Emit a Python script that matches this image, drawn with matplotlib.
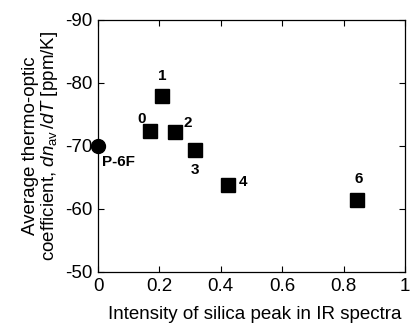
import matplotlib
matplotlib.use("Agg")
import matplotlib.pyplot as plt

plt.rcParams['font.family'] = ['Liberation Sans', 'DejaVu Sans']
plt.rcParams['mathtext.fontset'] = 'custom'
plt.rcParams['mathtext.rm'] = 'Liberation Sans'
plt.rcParams['mathtext.it'] = 'Liberation Sans:italic'

# data
ref_x = [0.0]
ref_y = [-70.0]
ref_label = "P-6F"
sample_x = [0.169, 0.208, 0.251, 0.316, 0.422, 0.843]
sample_y = [-72.4, -77.9, -72.1, -69.4, -63.8, -61.4]
sample_labels = ["0", "1", "2", "3", "4", "6"]
xticks = [0, 0.2, 0.4, 0.6, 0.8, 1]
xtick_labels = ["0", "0.2", "0.4", "0.6", "0.8", "1"]
yticks = [-50, -60, -70, -80, -90]
ytick_labels = ["-50", "-60", "-70", "-80", "-90"]

fig = plt.figure(figsize=(4.16, 3.26), dpi=100)
ax = fig.add_axes([98/416, 1 - 272/326, (405-98)/416, (272-19.5)/326])

ax.plot(ref_x, ref_y, 'o', color='black', markersize=10, clip_on=False, zorder=5)
ax.plot(sample_x, sample_y, 's', color='black', markersize=9.5, clip_on=False, zorder=5)

offsets = {"0": (-6, 8), "1": (0, 14), "2": (9, 7), "3": (0, -15), "4": (11, 2), "6": (1, 15)}
for x, y, lab in zip(sample_x, sample_y, sample_labels):
    dx, dy = offsets[lab]
    ax.annotate(lab, (x, y), xytext=(dx, dy), textcoords='offset points',
                ha='center', va='center', fontsize=11, fontweight='bold')
ax.annotate(ref_label, (ref_x[0], ref_y[0]), xytext=(15, -12), textcoords='offset points',
            ha='center', va='center', fontsize=11, fontweight='bold')

ax.set_xlim(0, 1)
ax.set_ylim(-50, -90)
ax.set_xticks(xticks)
ax.set_xticklabels(xtick_labels)
ax.set_yticks(yticks)
ax.set_yticklabels(ytick_labels)
ax.tick_params(direction='in', top=True, right=True, labelsize=13.5, length=4, width=0.8, pad=4)
for s in ax.spines.values():
    s.set_linewidth(0.9)

ax.set_xlabel("Intensity of silica peak in IR spectra", fontsize=13.5, labelpad=8, x=0.51)
ax.set_ylabel("Average thermo-optic\ncoefficient, $dn_{\\mathrm{av}}\\,/dT$ [ppm/K]", fontsize=13.5,
              labelpad=4, linespacing=0.95)

fig.savefig("out.png", dpi=100)
